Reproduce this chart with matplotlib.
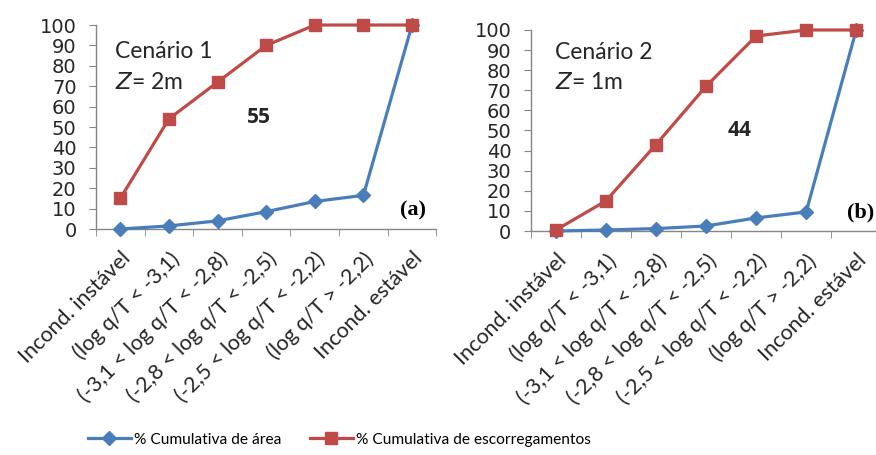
import matplotlib
matplotlib.use("Agg")
import matplotlib.pyplot as plt
from matplotlib.lines import Line2D
from matplotlib.transforms import ScaledTranslation

plt.rcParams["font.family"] = ["Lato", "DejaVu Sans"]

categories = [
    "Incond. instável",
    "(log q/T < -3,1)",
    "(-3,1 < log q/T < -2,8)",
    "(-2,8 < log q/T < -2,5)",
    "(-2,5 < log q/T < -2,2)",
    "(log q/T > -2,2)",
    "Incond. estável",
]

# Cenário 1 (Z = 2 m)
area_a = [0, 1.5, 4, 8.5, 13.5, 16.5, 100]
escorr_a = [15, 54, 72, 90, 100, 100, 100]

# Cenário 2 (Z = 1 m)
area_b = [0, 0.5, 1.2, 2.5, 6.5, 9.5, 100]
escorr_b = [0.5, 15, 43, 72, 97, 100, 100]

BLUE = "#4a7ebb"
RED = "#be4b48"
GRAY = "#868686"
TXT = "#262626"


def draw_panel(fig, ax, area, escorr, scen, zlabel, txt_xy, num, num_xy, letter, letter_x):
    x = list(range(len(categories)))
    ax.plot(x, area, color=BLUE, lw=2.3, marker="D", ms=7, clip_on=False, zorder=3)
    ax.plot(x, escorr, color=RED, lw=2.3, marker="s", ms=9, clip_on=False, zorder=4)
    ax.set_xlim(-0.5, len(categories) - 0.5)
    ax.set_ylim(0, 100)
    ax.set_yticks(range(0, 101, 10))
    ax.set_xticks(x)
    ax.set_xticklabels(categories, rotation=45, ha="right", rotation_mode="anchor",
                       fontsize=15.5, color=TXT)
    shift = ScaledTranslation(4 / 72, 0, fig.dpi_scale_trans)
    for lab in ax.get_xticklabels():
        lab.set_transform(lab.get_transform() + shift)
    ax.set_xticks([i - 0.5 for i in range(len(categories) + 1)], minor=True)
    ax.tick_params(axis="x", which="major", length=0, pad=14)
    ax.tick_params(axis="x", which="minor", length=5, color=GRAY, direction="out")
    ax.tick_params(axis="y", length=5, color=GRAY, pad=9)
    for lab in ax.get_yticklabels():
        lab.set_family("DejaVu Sans")
        lab.set_fontsize(14)
        lab.set_color(TXT)
    for s in ("top", "right"):
        ax.spines[s].set_visible(False)
    for s in ("left", "bottom"):
        ax.spines[s].set_color(GRAY)
        ax.spines[s].set_linewidth(1.0)
    ax.text(txt_xy[0], txt_xy[1], scen, transform=ax.transAxes, fontsize=16.5, color=TXT,
            va="center")
    ax.text(txt_xy[0], txt_xy[1] - 0.15, "$Z$= " + zlabel, transform=ax.transAxes,
            fontsize=16.5, color=TXT, va="center")
    ax.text(num_xy[0], num_xy[1], num, fontsize=15, fontweight="bold", family="Open Sans",
            color=TXT, ha="center", va="center")
    ax.text(letter_x, 0.093, letter, transform=ax.transAxes, fontsize=16, fontweight="bold",
            family="Liberation Serif", ha="center", va="center")


fig = plt.figure(figsize=(8.76, 4.55), dpi=100)
ax1 = fig.add_axes([0.1096, 0.4967, 0.3885, 0.4483])
ax2 = fig.add_axes([0.606, 0.4923, 0.4, 0.4418])

draw_panel(fig, ax1, area_a, escorr_a, "Cenário 1", "2m", (0.056, 0.868), "55", (2.86, 54.5),
           "(a)", 0.93)
draw_panel(fig, ax2, area_b, escorr_b, "Cenário 2", "1m", (0.069, 0.89), "44", (3.68, 50),
           "(b)", 0.94)

handles = [
    Line2D([], [], color=BLUE, lw=2.3, marker="D", ms=7),
    Line2D([], [], color=RED, lw=2.3, marker="s", ms=9),
]
fig.legend(handles, ["% Cumulativa de área", "% Cumulativa de escorregamentos"],
           loc="center left", bbox_to_anchor=(0.1, 0.034), ncol=2, frameon=False,
           fontsize=11.2, handlelength=2.8, handletextpad=0.2, columnspacing=1.8,
           borderaxespad=0, borderpad=0)

fig.savefig("out.png", dpi=100)
